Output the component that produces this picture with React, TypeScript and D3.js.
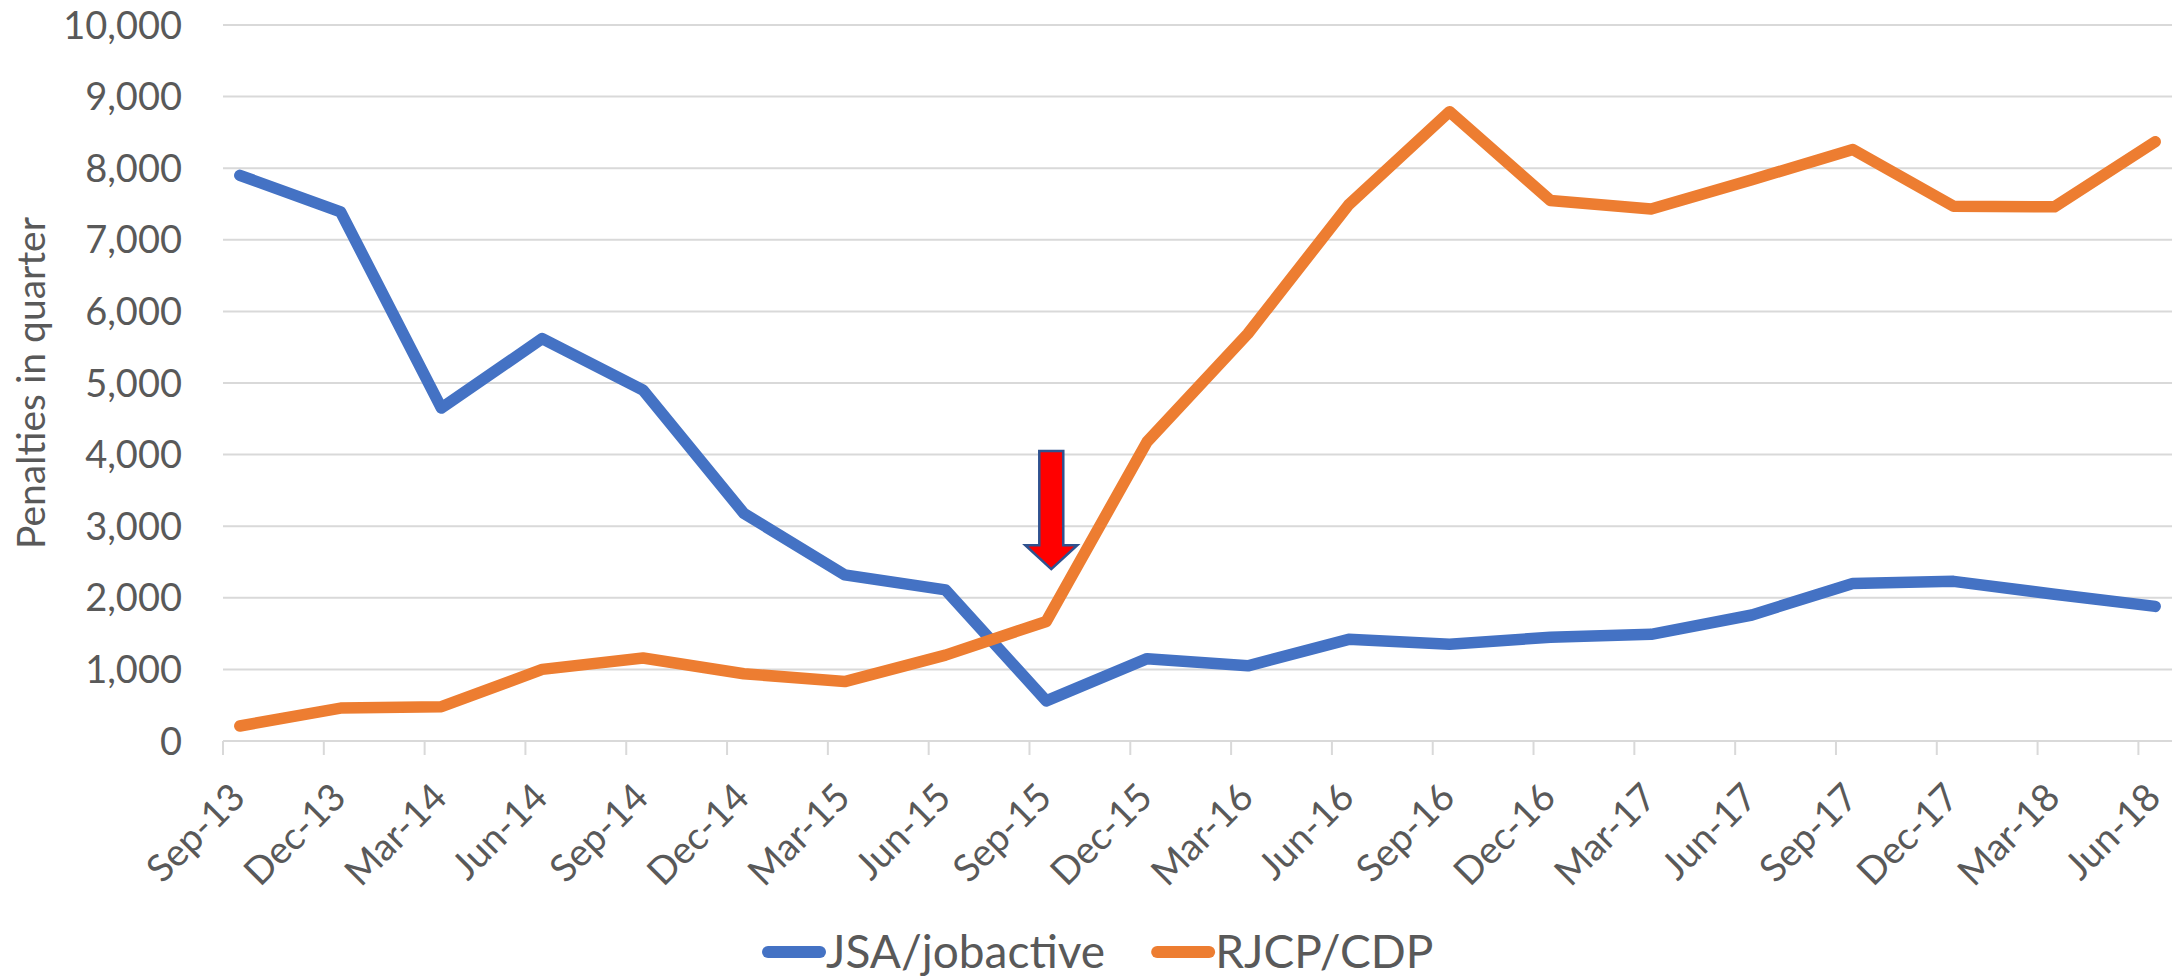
import React, { useEffect, useRef } from 'react';
import * as d3 from 'd3';

// quarter labels, one per data point
const quarters = [
  'Sep-13', 'Dec-13', 'Mar-14', 'Jun-14', 'Sep-14', 'Dec-14', 'Mar-15', 'Jun-15', 'Sep-15', 'Dec-15',
  'Mar-16', 'Jun-16', 'Sep-16', 'Dec-16', 'Mar-17', 'Jun-17', 'Sep-17', 'Dec-17', 'Mar-18', 'Jun-18',
];

const jsaValues = [
  7900, 7390, 4650, 5620, 4900, 3180, 2320, 2110, 560, 1150,
  1050, 1420, 1350, 1450, 1490, 1760, 2200, 2230, 2050, 1880,
];

const rjcpValues = [
  210, 460, 480, 1000, 1160, 940, 830, 1200, 1670, 4180,
  5690, 7490, 8790, 7550, 7430, 7840, 8260, 7470, 7460, 8370,
];

const seriesNames = ['JSA/jobactive', 'RJCP/CDP'];
const seriesColors = ['#4472C4', '#ED7D31'];

const yTicks = [0, 1000, 2000, 3000, 4000, 5000, 6000, 7000, 8000, 9000, 10000];

// red arrow annotation, in data terms
const arrowQuarter = 'Sep-15';
const arrowTop = 4050;
const arrowTip = 2400;

const FONT = "Lato, 'Open Sans', 'DejaVu Sans', sans-serif";

const App = () => {
  const chartRef = useRef<SVGSVGElement>(null);

  useEffect(() => {
    document.body.style.margin = '0';
    const width = 2175;
    const height = 980;

    const svg = d3.select(chartRef.current);
    svg.selectAll('*').remove();
    svg.attr('width', width).attr('height', height);

    // Excel date axis: monthly base unit, ticks every 3 months, points mid-month
    const monthsPerQuarter = 3;
    const totalMonths = (quarters.length - 1) * monthsPerQuarter + 1;
    const xScale = d3.scaleLinear().domain([0, totalMonths]).range([223, 2172]);
    const xTick = (i: number) => xScale(i * monthsPerQuarter);
    const xPoint = (i: number) => xScale(i * monthsPerQuarter + 0.5);

    const yScale = d3.scaleLinear().domain([0, 10000]).range([741, 25]);

    // gridlines
    svg
      .append('g')
      .selectAll('line')
      .data(yTicks)
      .enter()
      .append('line')
      .attr('x1', xScale(0))
      .attr('x2', xScale(totalMonths))
      .attr('y1', (d) => yScale(d))
      .attr('y2', (d) => yScale(d))
      .attr('stroke', '#D9D9D9')
      .attr('stroke-width', 2);

    // y tick labels
    const fmt = d3.format(',');
    svg
      .append('g')
      .selectAll('text')
      .data(yTicks)
      .enter()
      .append('text')
      .attr('x', 182)
      .attr('y', (d) => yScale(d))
      .attr('dy', '0.36em')
      .attr('text-anchor', 'end')
      .attr('font-family', FONT)
      .attr('font-size', 38)
      .attr('fill', '#595959')
      .text((d) => fmt(d));

    // y axis title
    svg
      .append('text')
      .attr('transform', `translate(45, ${(yScale(0) + yScale(10000)) / 2}) rotate(-90)`)
      .attr('text-anchor', 'middle')
      .attr('font-family', FONT)
      .attr('font-size', 39)
      .attr('fill', '#595959')
      .text('Penalties in quarter');

    // x tick marks
    svg
      .append('g')
      .selectAll('line')
      .data(quarters)
      .enter()
      .append('line')
      .attr('x1', (_, i) => xTick(i))
      .attr('x2', (_, i) => xTick(i))
      .attr('y1', yScale(0))
      .attr('y2', yScale(0) + 14)
      .attr('stroke', '#D9D9D9')
      .attr('stroke-width', 2);

    // x labels, rotated
    svg
      .append('g')
      .selectAll('text')
      .data(quarters)
      .enter()
      .append('text')
      .attr('transform', (_, i) => `translate(${xPoint(i) - 3}, 789) rotate(-45)`)
      .attr('text-anchor', 'end')
      .attr('dominant-baseline', 'central')
      .attr('font-family', FONT)
      .attr('font-size', 38)
      .attr('fill', '#595959')
      .text((d) => d);

    // lines
    const line = d3
      .line<number>()
      .x((_, i) => xPoint(i))
      .y((d) => yScale(d));

    [jsaValues, rjcpValues].forEach((vals, k) => {
      svg
        .append('path')
        .datum(vals)
        .attr('d', line)
        .attr('fill', 'none')
        .attr('stroke', seriesColors[k])
        .attr('stroke-width', 11.5)
        .attr('stroke-linejoin', 'round')
        .attr('stroke-linecap', 'round');
    });

    // arrow annotation
    const ax = xPoint(quarters.indexOf(arrowQuarter)) + 5;
    const yTop = yScale(arrowTop);
    const yTip = yScale(arrowTip);
    const headH = 24;
    const shaftW = 12;
    const headW = 26;
    const arrowPath = [
      [ax - shaftW, yTop],
      [ax + shaftW, yTop],
      [ax + shaftW, yTip - headH],
      [ax + headW, yTip - headH],
      [ax, yTip],
      [ax - headW, yTip - headH],
      [ax - shaftW, yTip - headH],
    ];
    svg
      .append('path')
      .attr('d', 'M' + arrowPath.map((p) => p.join(',')).join('L') + 'Z')
      .attr('fill', '#FF0000')
      .attr('stroke', '#2F528F')
      .attr('stroke-width', 2.5)
      .attr('stroke-linejoin', 'miter');

    // legend
    const legend = svg.append('g').attr('transform', 'translate(762, 952)');
    let offset = 0;
    seriesNames.forEach((name, k) => {
      const g = legend.append('g').attr('transform', `translate(${offset}, 0)`);
      g.append('line')
        .attr('x1', 6)
        .attr('x2', 58)
        .attr('y1', 0)
        .attr('y2', 0)
        .attr('stroke', seriesColors[k])
        .attr('stroke-width', 12)
        .attr('stroke-linecap', 'round');
      const t = g
        .append('text')
        .attr('x', 64)
        .attr('y', 16)
        .attr('font-family', FONT)
        .attr('font-size', 46)
        .attr('fill', '#595959')
        .text(name);
      const w = (t.node() as SVGTextElement).getComputedTextLength();
      offset += 64 + w + 46;
    });
  }, []);

  return <svg ref={chartRef} style={{ display: 'block', background: '#fff' }} />;
};

export default App;
